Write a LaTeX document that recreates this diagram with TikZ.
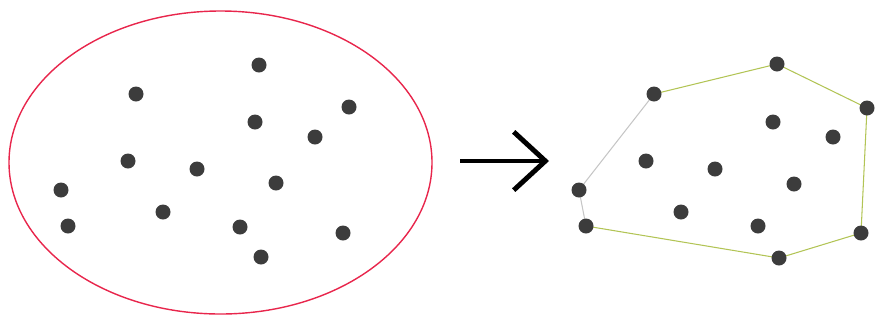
\documentclass[tikz,border=0pt]{standalone}
\usepackage{xcolor}
\usepackage{tikz}
\usetikzlibrary{arrows.meta}
\definecolor{rimred}{HTML}{E8264C}
\definecolor{hullgreen}{HTML}{B2C455}
\definecolor{dotgray}{HTML}{3C3C3C}

\begin{document}
\begin{tikzpicture}[x=0.03cm, y=-0.03cm,
    pt/.style={circle, fill=dotgray, inner sep=0pt, minimum size=0.45cm},
    hull/.style={hullgreen, line width=0.9pt},
    open/.style={gray!45, line width=0.9pt}]
    \useasboundingbox (0,0) rectangle (879,326);
    % the scattered points
    \draw[rimred, line width=1.2pt] (220.5,162.5) ellipse [x radius=211.5, y radius=151.5];
    \foreach \x/\y/\n in {259/65/1, 136/94/2, 349/107/3, 255/122/4, 315/137/5, 128/161/6, 197/169/7,
        276/183/8, 61/190/9, 163/212/10, 68/226/11, 240/227/12, 343/233/13, 261/257/14}
        \node[pt] (l\n) at (\x,\y) {};
    % arrow
    \coordinate (a0) at (460,161);
    \coordinate (a1) at (549,161);
    \draw[line width=4.2pt, -{Straight Barb[length=0.95cm, width=1.75cm, line width=4.2pt]}] (a0) -- (a1);
    % the hull
    \foreach \x/\y/\n in {777/64/1, 654/94/2, 867/108/3, 773/122/4, 833/137/5, 646/161/6, 715/169/7,
        794/184/8, 579/190/9, 681/212/10, 586/226/11, 758/226/12, 861/233/13, 779/258/14}
        \coordinate (c\n) at (\x,\y);
    \draw[hull] (c2) -- (c1) -- (c3) -- (c13) -- (c14) -- (c11);
    \draw[open] (c11) -- (c9) -- (c2);
    \foreach \n in {1,...,14}
        \node[pt] (r\n) at (c\n) {};
\end{tikzpicture}
\end{document}
